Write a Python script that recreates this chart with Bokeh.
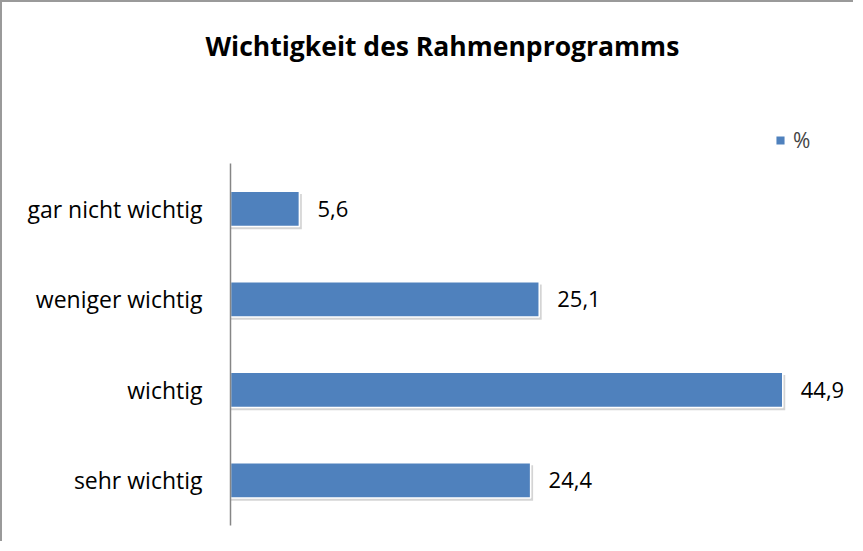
from bokeh.plotting import figure
from bokeh.models import ColumnDataSource, LabelSet, Legend, LegendItem, Range1d, FixedTicker, Title
from bokeh.core.properties import value
from bokeh.transform import dodge
from bokeh.embed import file_html
from bokeh.resources import INLINE

categories = ["gar nicht wichtig", "weniger wichtig", "wichtig", "sehr wichtig"]
values = [5.6, 25.1, 44.9, 24.4]
series_name = "%"
title_text = "Wichtigkeit des Rahmenprogramms"

n = len(categories)
ypos = [n - 1 - i for i in range(n)]          # first category at the top
labels = [f"{v:.1f}".replace(".", ",") for v in values]
source = ColumnDataSource(dict(y=ypos, cat=categories, v=values, lab=labels))

FONT = "Open Sans"
BAR = "#4F81BD"

p = figure(
    width=853, height=541,
    y_range=Range1d(-0.5, n),
    x_range=Range1d(0, 50),
    output_backend="svg", toolbar_location=None,
    min_border_left=228, min_border_right=10, min_border_top=116, min_border_bottom=18,
    styles={"border-left": "2px solid #9a9a9a", "border-top": "2px solid #9a9a9a"},
    title=title_text,
)
p.title.text_font = FONT
p.title.text_font_size = "26.5px"
p.title.text_font_style = "bold"
p.title.align = "left"
p.title.offset = -25
p.title.vertical_align = "bottom"
p.title.standoff = 0
p.title.text_color = "#000000"

# empty spacer between the title and the plot area
p.add_layout(Title(text=" ", text_font_size="2px", standoff=51), "above")

p.outline_line_color = None
p.xaxis.visible = False
p.xgrid.visible = False
p.ygrid.visible = False

# shadow
p.hbar(y=dodge("y", -0.03), left=0, right=dodge("v", 0.2),
       height=0.39, source=source, fill_color="#a0a0a0", fill_alpha=0.45, line_color=None)
bars = p.hbar(y="y", left=0, right="v", height=0.39, source=source,
              fill_color=BAR, line_color="white", line_width=1.5)

p.yaxis.ticker = FixedTicker(ticks=ypos)
p.yaxis.major_label_overrides = {yy: c for yy, c in zip(ypos, categories)}
p.yaxis.bounds = (-0.5, n - 0.5)
p.yaxis.axis_line_color = "#868686"
p.yaxis.axis_line_width = 1.5
p.yaxis.major_tick_line_color = None
p.yaxis.minor_tick_line_color = None
p.yaxis.major_label_standoff = 22
p.yaxis.major_label_text_font = FONT
p.yaxis.major_label_text_font_size = "23px"
p.yaxis.major_label_text_color = "#000000"

ls = LabelSet(x="v", y="y", text="lab", source=source, x_offset=18,
              text_baseline="middle", text_font=value(FONT), text_font_size=value("22px"),
              text_color="#000000")
p.add_layout(ls)

legend = Legend(items=[LegendItem(label=series_name, renderers=[bars])],
                location=(544, 371), orientation="horizontal",
                padding=0, margin=0, border_line_color=None, background_fill_alpha=0,
                glyph_width=12, glyph_height=12, label_standoff=7,
                label_text_font=FONT, label_text_font_size="21px")
p.add_layout(legend)

open("out.html", "w").write(file_html(p, INLINE))
